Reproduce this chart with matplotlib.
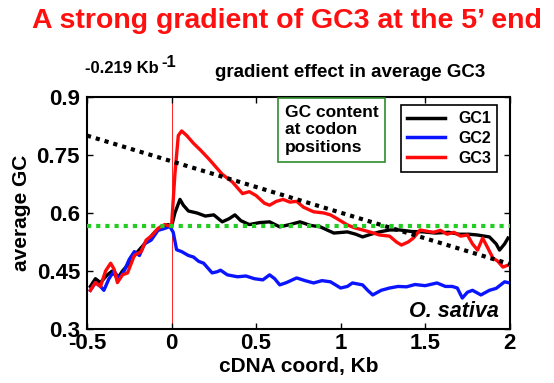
import matplotlib
matplotlib.use("Agg")
import matplotlib.pyplot as plt
from matplotlib.lines import Line2D

plt.rcParams['font.family'] = ['Liberation Sans', 'DejaVu Sans']

# ---- data ----
gc1_x = [-0.48, -0.45, -0.42, -0.38, -0.35, -0.32, -0.29, -0.25, -0.22, -0.18, -0.14, -0.10, -0.06, -0.02, 0.0,
         0.02, 0.05, 0.07, 0.10, 0.15, 0.20, 0.25, 0.30, 0.34, 0.375, 0.41, 0.46, 0.52, 0.58, 0.64, 0.70, 0.76,
         0.82, 0.88, 0.96, 1.04, 1.09, 1.13, 1.18, 1.23, 1.29, 1.35, 1.42, 1.49, 1.56, 1.64, 1.70, 1.76, 1.81,
         1.88, 1.92, 1.94, 1.97, 1.99]
gc1_y = [0.41, 0.43, 0.42, 0.44, 0.45, 0.43, 0.45, 0.47, 0.49, 0.51, 0.53, 0.55, 0.565, 0.57, 0.565,
         0.60, 0.635, 0.62, 0.605, 0.60, 0.592, 0.595, 0.577, 0.585, 0.595, 0.58, 0.57, 0.575, 0.577, 0.564,
         0.57, 0.577, 0.568, 0.564, 0.548, 0.551, 0.545, 0.538, 0.545, 0.551, 0.556, 0.556, 0.552, 0.551,
         0.548, 0.55, 0.545, 0.545, 0.543, 0.538, 0.52, 0.504, 0.52, 0.535]

gc2_x = [-0.48, -0.45, -0.42, -0.40, -0.37, -0.34, -0.31, -0.28, -0.25, -0.22, -0.19, -0.16, -0.12, -0.08,
         -0.04, -0.01, 0.01, 0.03, 0.06, 0.10, 0.13, 0.16, 0.19, 0.22, 0.24, 0.27, 0.29, 0.33, 0.39, 0.44,
         0.49, 0.54, 0.58, 0.61, 0.64, 0.68, 0.74, 0.79, 0.84, 0.89, 0.94, 1.00, 1.04, 1.07, 1.13, 1.16, 1.19,
         1.24, 1.29, 1.34, 1.39, 1.44, 1.50, 1.57, 1.62, 1.66, 1.69, 1.72, 1.75, 1.78, 1.83, 1.88, 1.92,
         1.97, 1.99]
gc2_y = [0.40, 0.42, 0.41, 0.40, 0.43, 0.45, 0.43, 0.45, 0.48, 0.50, 0.49, 0.52, 0.53, 0.555,
         0.56, 0.565, 0.55, 0.505, 0.50, 0.49, 0.486, 0.475, 0.47, 0.455, 0.445, 0.448, 0.452, 0.44, 0.435,
         0.437, 0.43, 0.427, 0.44, 0.43, 0.414, 0.42, 0.432, 0.425, 0.419, 0.425, 0.422, 0.406, 0.41, 0.419,
         0.414, 0.40, 0.388, 0.40, 0.406, 0.41, 0.409, 0.415, 0.412, 0.419, 0.41, 0.41, 0.406, 0.38, 0.395,
         0.40, 0.388, 0.40, 0.405, 0.422, 0.42]

gc3_x = [-0.48, -0.45, -0.42, -0.39, -0.36, -0.34, -0.32, -0.29, -0.26, -0.22, -0.18, -0.15, -0.12, -0.08,
         -0.04, 0.0, 0.02, 0.04, 0.06, 0.09, 0.13, 0.17, 0.22, 0.27, 0.30, 0.36, 0.42, 0.46, 0.50, 0.55, 0.58,
         0.62, 0.66, 0.70, 0.74, 0.78, 0.84, 0.90, 0.94, 0.98, 1.04, 1.08, 1.13, 1.18, 1.23, 1.29, 1.33, 1.36,
         1.40, 1.43, 1.47, 1.52, 1.55, 1.59, 1.63, 1.67, 1.71, 1.75, 1.78, 1.81, 1.84, 1.87, 1.90, 1.93, 1.96,
         1.99]
gc3_y = [0.40, 0.42, 0.41, 0.45, 0.47, 0.455, 0.42, 0.44, 0.445, 0.49, 0.50, 0.53, 0.54, 0.56,
         0.57, 0.565, 0.70, 0.80, 0.812, 0.80, 0.78, 0.763, 0.74, 0.715, 0.70, 0.68, 0.65, 0.655, 0.645, 0.625,
         0.62, 0.63, 0.635, 0.628, 0.63, 0.615, 0.603, 0.60, 0.595, 0.585, 0.569, 0.562, 0.556, 0.55, 0.543,
         0.54, 0.525, 0.517, 0.525, 0.535, 0.556, 0.552, 0.55, 0.555, 0.545, 0.55, 0.54, 0.543, 0.52, 0.504,
         0.535, 0.51, 0.484, 0.475, 0.46, 0.465]

trend_x = [-0.5, 2.0]
trend_y = [0.80, 0.468]
mean_gc = 0.565

x_ticks = [-0.5, 0, 0.5, 1, 1.5, 2]
x_tick_labels = ['-0.5', '0', '0.5', '1', '1.5', '2']
y_ticks = [0.3, 0.45, 0.6, 0.75, 0.9]
y_tick_labels = ['0.3', '0.45', '0.6', '0.75', '0.9']

# ---- figure ----
fig = plt.figure(figsize=(5.54, 3.83), dpi=100)
ax = fig.add_axes([0.157, 0.141, 0.763, 0.606])

ax.axvline(0, color='red', lw=0.6, zorder=1)
ax.plot(gc1_x, gc1_y, color='black', lw=2.4, zorder=3)
ax.plot(gc2_x, gc2_y, color='#0a14ff', lw=2.4, zorder=3)
ax.plot(gc3_x, gc3_y, color='#ff0a0a', lw=2.4, zorder=4)
ax.plot(trend_x, trend_y, color='black', lw=3, linestyle=(0, (1, 1.2)), zorder=5)
ax.plot([-0.5, 2.0], [mean_gc, mean_gc], color='#22cc22', lw=3, linestyle=(0, (1, 1.2)), zorder=5)

ax.set_xlim(-0.5, 2.0)
ax.set_ylim(0.3, 0.9)
ax.set_xticks(x_ticks)
ax.set_xticklabels(x_tick_labels)
ax.set_yticks(y_ticks)
ax.set_yticklabels(y_tick_labels)
ax.tick_params(direction='in', top=True, right=True, length=4, width=1, labelsize=16)
ax.tick_params(axis='x', pad=3)
ax.tick_params(axis='y', pad=5)
for lbl in ax.get_xticklabels() + ax.get_yticklabels():
    lbl.set_fontweight('bold')
for s in ax.spines.values():
    s.set_linewidth(1.5)

ax.set_xlabel('cDNA coord, Kb', fontsize=15, fontweight='bold', labelpad=2)
ax.set_ylabel('average GC', fontsize=15, fontweight='bold', labelpad=4)

# green text box
ax.text(0.468, 0.965, 'GC content\nat codon\npositions', transform=ax.transAxes, ha='left', va='top',
        fontsize=12.5, fontweight='bold', linespacing=1.2,
        bbox=dict(boxstyle='square,pad=0.4', facecolor='white', edgecolor='#2e8b2e', lw=1.2), zorder=6)

handles = [Line2D([], [], color='black', lw=2.5),
           Line2D([], [], color='#0a14ff', lw=2.5),
           Line2D([], [], color='#ff0a0a', lw=2.5)]
leg = ax.legend(handles, ['GC1', 'GC2', 'GC3'], loc='upper right', bbox_to_anchor=(0.99, 1.0),
                fancybox=False, framealpha=1, edgecolor='black', handlelength=2.4,
                prop=dict(size=11.5, weight='bold'), borderpad=0.4, labelspacing=0.3)
leg.get_frame().set_linewidth(1.2)
leg.set_zorder(7)

ax.text(0.975, 0.03, 'O. sativa', transform=ax.transAxes, ha='right', va='bottom',
        fontsize=15.5, fontweight='bold', fontstyle='italic', zorder=6)

fig.text(0.518, 0.945, 'A strong gradient of GC3 at the 5\u2019 end', ha='center', va='center',
         color='#ff1010', fontsize=20.5, fontweight='bold')
fig.text(0.153, 0.822, '-0.219 Kb', ha='left', va='center', fontsize=12, fontweight='bold')
fig.text(0.292, 0.838, '-1', ha='left', va='center', fontsize=12, fontweight='bold')
fig.text(0.388, 0.812, 'gradient effect in average GC3', ha='left', va='center', fontsize=13.5,
         fontweight='bold')

fig.savefig('out.png', dpi=100)
